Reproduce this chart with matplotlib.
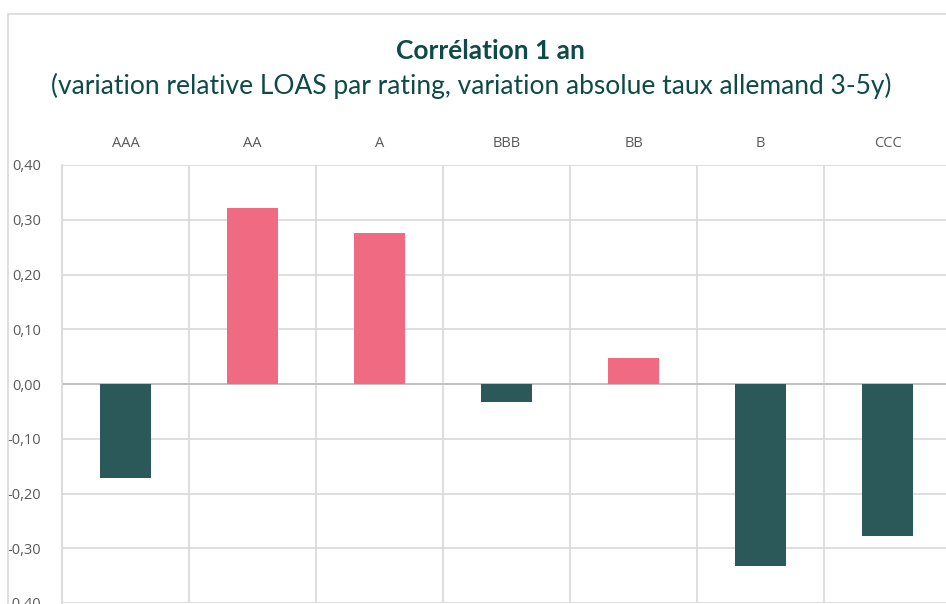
import numpy as np
import matplotlib.pyplot as plt
from matplotlib.patches import Rectangle

# Data
ratings = ["AAA", "AA", "A", "BBB", "BB", "B", "CCC"]
correlation = [-0.172, 0.322, 0.275, -0.032, 0.048, -0.333, -0.278]

title = "Corrélation 1 an"
subtitle = "(variation relative LOAS par rating, variation absolue taux allemand 3-5y)"

W, H = 946, 604
fig = plt.figure(figsize=(W / 100, H / 100), dpi=100)

# outer chart frame (cropped on the right / bottom)
fig.patches.append(Rectangle((8 / W, -0.1), 2.0, (H - 14) / H + 0.1,
                             transform=fig.transFigure, fill=False,
                             edgecolor="#D9D9D9", linewidth=1.2))

# plot area: 0,40 at y=165 px, -0,40 at y=603 px, x from 62 to 951 px
ax = fig.add_axes([62 / W, (H - 603) / H, (951 - 62) / W, (603 - 165) / H])

x = np.arange(len(ratings))
colors = ["#F06A82" if v >= 0 else "#2B5858" for v in correlation]
ax.bar(x, correlation, width=0.4, color=colors, zorder=3)

ax.set_xlim(-0.5, len(ratings) - 0.5)
ax.set_ylim(-0.4, 0.4)
yt = np.round(np.arange(-0.4, 0.41, 0.1), 2)
ax.set_yticks(yt)
ax.set_yticklabels([f"{abs(v) if v == 0 else v:.2f}".replace(".", ",") for v in yt],
                   fontsize=10.5, color="#595959", family="Open Sans")

# vertical separators between categories
ax.set_xticks(np.arange(len(ratings) + 1) - 0.5, minor=True)
ax.set_xticks([])
ax.grid(True, axis="y", color="#D9D9D9", linewidth=1.2, zorder=0)
ax.grid(True, axis="x", which="minor", color="#D9D9D9", linewidth=1.2, zorder=0)
ax.axhline(0, color="#BFBFBF", linewidth=1.3, zorder=2)
ax.tick_params(axis="both", which="both", length=0, pad=15)

for s in ["top", "right", "bottom"]:
    ax.spines[s].set_visible(False)
ax.spines["left"].set_color("#D9D9D9")
ax.spines["left"].set_linewidth(1.2)

# category labels above the plot
for i, r in enumerate(ratings):
    ax.text(i, 0.44, r, ha="center", va="center",
            fontsize=10.5, color="#595959", family="Open Sans")

fig.text(490 / W, 1 - 51 / H, title, ha="center", va="center",
         fontsize=19, fontweight="bold", color="#0E4A47", family="Lato")
fig.text(471 / W, 1 - 86 / H, subtitle, ha="center", va="center",
         fontsize=19, color="#0E4A47", family="Lato")

fig.savefig("out.png", dpi=100)
